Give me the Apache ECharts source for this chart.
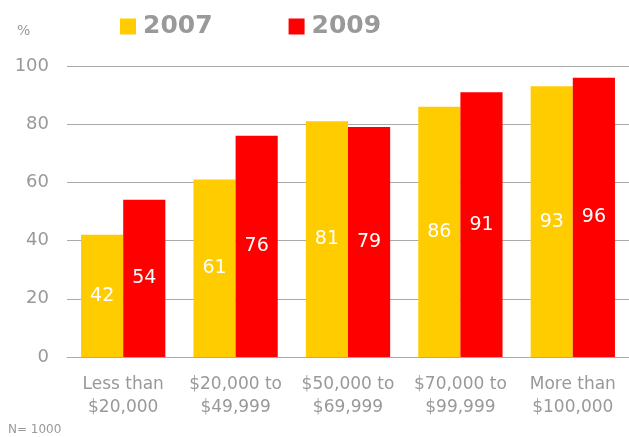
<!DOCTYPE html>
<html>
<head>
<meta charset="utf-8">
<script src="https://cdn.jsdelivr.net/npm/echarts@6/dist/echarts.min.js"></script>
<style>
  html, body { margin: 0; padding: 0; background: #fff; }
  #chart { width: 629px; height: 437px; }
</style>
</head>
<body>
<div id="chart"></div>
<script>
var categories = ['Less than\n$20,000', '$20,000 to\n$49,999', '$50,000 to\n$69,999', '$70,000 to\n$99,999', 'More than\n$100,000'];
var values2007 = [42, 61, 81, 86, 93];
var values2009 = [54, 76, 79, 91, 96];
var yTicks = { min: 0, max: 100, interval: 20 };

var myChart = echarts.init(document.getElementById('chart'));
var font = '"DejaVu Sans", sans-serif';

var valueLabel = {
  show: true,
  position: 'inside',
  color: '#fff',
  fontSize: 19,
  fontFamily: font
};

var option = {
  animation: false,
  textStyle: { fontFamily: font },
  legend: {
    top: 9,
    left: 115,
    icon: 'rect',
    itemWidth: 16,
    itemHeight: 16,
    itemGap: 76,
    textStyle: { color: '#999', fontSize: 25, fontWeight: 'bold', fontFamily: font, padding: [0, 0, 0, 2] },
    data: ['2007', '2009']
  },
  graphic: [
    { type: 'text', left: 17, top: 24, style: { text: '%', fill: '#999', fontSize: 14, fontFamily: font } },
    { type: 'text', left: 8, top: 424, style: { text: 'N= 1000', fill: '#999', fontSize: 12, fontFamily: font } }
  ],
  grid: { left: 67, right: 0, top: 66, bottom: 80 },
  xAxis: {
    type: 'category',
    data: categories,
    axisLine: { lineStyle: { color: '#aaa', width: 1 } },
    axisTick: { show: false },
    axisLabel: { color: '#999', fontSize: 17, lineHeight: 23, margin: 16, interval: 0 }
  },
  yAxis: {
    type: 'value',
    min: yTicks.min,
    max: yTicks.max,
    interval: yTicks.interval,
    axisLine: { show: false },
    axisTick: { show: false },
    axisLabel: { color: '#999', fontSize: 18, margin: 18 },
    splitLine: { lineStyle: { color: '#aaa', width: 1 } }
  },
  series: [
    {
      name: '2007',
      type: 'bar',
      data: values2007,
      barGap: '0%',
      barCategoryGap: '25%',
      itemStyle: { color: '#FFCC00' },
      label: valueLabel
    },
    {
      name: '2009',
      type: 'bar',
      data: values2009,
      itemStyle: { color: '#FF0000' },
      label: valueLabel
    }
  ]
};

if (option && typeof option === 'object') {
  myChart.setOption(option);
}
window.addEventListener('resize', myChart.resize);
</script>
</body>
</html>
